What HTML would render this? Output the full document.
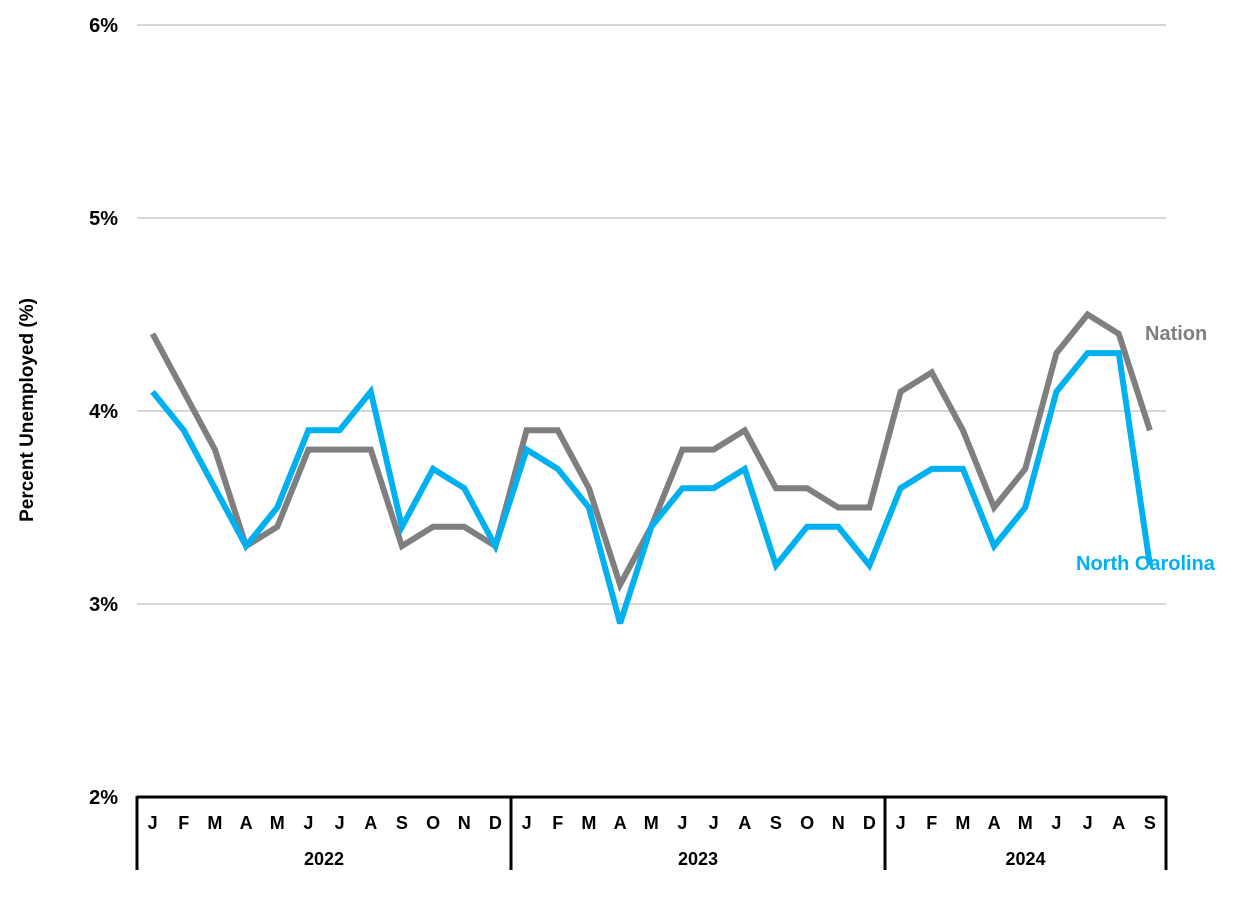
<!DOCTYPE html>
<html><head><meta charset="utf-8"><style>
body{margin:0;background:#fff;}
svg text{font-family:"Liberation Sans",Arial,sans-serif;font-weight:bold;}
</style></head><body>
<svg id="chart" width="1252" height="909" xmlns="http://www.w3.org/2000/svg">
<g id="grid"></g><g id="axes"></g><g id="series"></g>
<text transform="translate(33,410) rotate(-90)" text-anchor="middle" font-size="19" fill="#000">Percent Unemployed (%)</text>
<text x="1145" y="340" font-size="20" fill="#7f7f7f">Nation</text>
<text x="1076" y="570" font-size="20" fill="#00b0f0">North Carolina</text>
</svg>
<script>
const months=["J","F","M","A","M","J","J","A","S","O","N","D","J","F","M","A","M","J","J","A","S","O","N","D","J","F","M","A","M","J","J","A","S"];
const years=["2022","2023","2024"];
const nation=[4.4,4.1,3.8,3.3,3.4,3.8,3.8,3.8,3.3,3.4,3.4,3.3,3.9,3.9,3.6,3.1,3.4,3.8,3.8,3.9,3.6,3.6,3.5,3.5,4.1,4.2,3.9,3.5,3.7,4.3,4.5,4.4,3.9];
const northCarolina=[4.1,3.9,3.6,3.3,3.5,3.9,3.9,4.1,3.4,3.7,3.6,3.3,3.8,3.7,3.5,2.9,3.4,3.6,3.6,3.7,3.2,3.4,3.4,3.2,3.6,3.7,3.7,3.3,3.5,4.1,4.3,4.3,3.2];
const yTicks=[2,3,4,5,6];
const NS="http://www.w3.org/2000/svg";
const x0=137,yrW=374,mW=yrW/12;
const xs=i=>x0+mW*(i+0.5);
const ys=v=>797-(v-2)*193;
function mk(tag,attrs,parent,text){const e=document.createElementNS(NS,tag);for(const k in attrs)e.setAttribute(k,attrs[k]);if(text!==undefined)e.textContent=text;parent.appendChild(e);return e;}
const grid=document.getElementById('grid'),axes=document.getElementById('axes'),ser=document.getElementById('series');
yTicks.forEach(t=>{
  if(t>2){const l=mk('line',{x1:137,x2:1166,y1:ys(t),y2:ys(t),stroke:'#bfbfbf','stroke-width':1.3},grid);
  
  }
  const tx=mk('text',{x:118,y:ys(t)+7,'text-anchor':'end','font-size':20,fill:'#000'},axes,t+'%');
  
  
});
const ax=mk('line',{x1:137,x2:1166,y1:797,y2:797,stroke:'#000','stroke-width':3},axes);


[0,1,2,3].forEach(k=>{const xx=Math.min(x0+k*yrW,1166);
  const l=mk('line',{x1:xx,x2:xx,y1:796,y2:870,stroke:'#000','stroke-width':3},axes);
  
  });
months.forEach((m,i)=>{const t=mk('text',{x:xs(i),y:829,'text-anchor':'middle','font-size':18,fill:'#000'},axes,m);
  
  });
years.forEach((y,k)=>{const end=Math.min(x0+(k+1)*yrW,1166);const t=mk('text',{x:(x0+k*yrW+end)/2,y:865,'text-anchor':'middle','font-size':18,fill:'#000'},axes,y);
  
  });
function line(arr,color,name){const p=mk('polyline',{points:arr.map((v,i)=>xs(i)+','+ys(v)).join(' '),fill:'none',stroke:color,'stroke-width':6,'stroke-linejoin':'miter','stroke-miterlimit':3},ser);
  
  }
line(nation,'#7f7f7f','nation-line');
line(northCarolina,'#00b0f0','north-carolina-line');
</script>
</body></html>
